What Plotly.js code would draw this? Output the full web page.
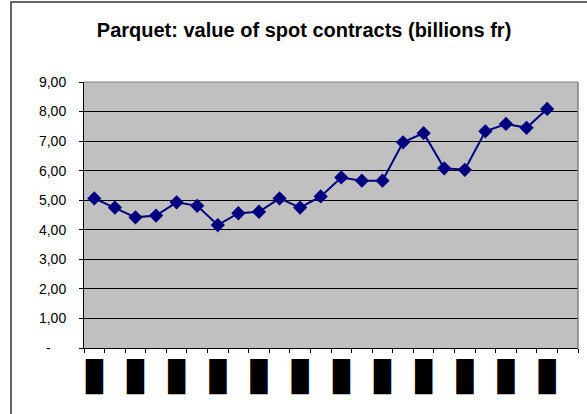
<!DOCTYPE html>
<html><head><meta charset="utf-8">
<script src="https://cdn.plot.ly/plotly-3.0.1.min.js"></script>
<style>html,body{margin:0;padding:0;background:#fff}#c{width:587px;height:414px}</style>
</head><body><div id="c"></div>
<script>
// 24 periods on the category axis (last one has no value)
const periods = Array.from({length: 24}, (_, i) => i);
const values = [5.06, 4.75, 4.42, 4.48, 4.93, 4.81, 4.16, 4.56, 4.61, 5.06, 4.75, 5.13,
                5.77, 5.66, 5.66, 6.96, 7.27, 6.08, 6.03, 7.33, 7.58, 7.45, 8.09, null];
const xTickVals = [0, 2, 4, 6, 8, 10, 12, 14, 16, 18, 20, 22];
const xTickText = xTickVals.map(() => '▊');
const yTickVals = [0, 1, 2, 3, 4, 5, 6, 7, 8, 9];
const yTickText = ['-\u00a0\u00a0\u00a0\u00a0', '1,00', '2,00', '3,00', '4,00', '5,00', '6,00', '7,00', '8,00', '9,00'];

const W = 587, H = 414, mL = 84, mR = 9, mT = 82, mB = 66;
const pw = W - mL - mR, ph = H - mT - mB;
const px = v => (v - mL) / pw, py = v => (H - mB - v) / ph;

const trace = {
  x: periods, y: values, type: 'scatter', mode: 'lines+markers',
  line: {color: '#000080', width: 2},
  marker: {symbol: 'diamond', size: 11, color: '#000080'},
  connectgaps: false, hoverinfo: 'none'
};

const layout = {
  width: W, height: H,
  margin: {l: mL, r: mR, t: mT, b: mB, pad: 0},
  paper_bgcolor: '#ffffff', plot_bgcolor: '#c0c0c0',
  font: {family: 'Liberation Sans, Arial, sans-serif', size: 14, color: '#000'},
  title: {text: '<b>Parquet: value of spot contracts (billions fr)</b>',
          font: {size: 20, family: 'Liberation Sans, Arial, sans-serif', color: '#000'},
          x: 0.518, xref: 'container', xanchor: 'center', y: 0.928, yanchor: 'middle'},
  showlegend: false,
  xaxis: {
    range: [-0.5, 23.5], tickmode: 'array', tickvals: xTickVals, ticktext: xTickText,
    ticks: '', tickangle: 0, tickfont: {size: 29.5, color: '#000', family: 'DejaVu Sans'},
    ticklabelstandoff: 3, ticklabelshift: 3,
    showgrid: false, zeroline: false, showline: true, linecolor: '#000', linewidth: 1,
    minor: {ticks: 'outside', tickmode: 'linear', tick0: -0.5, dtick: 1, ticklen: 4, tickcolor: '#000', showgrid: false},
    fixedrange: true
  },
  yaxis: {
    range: [0, 9], tickmode: 'array', tickvals: yTickVals, ticktext: yTickText,
    ticks: 'outside', ticklen: 4, tickcolor: '#000', ticklabelstandoff: 10,
    showgrid: true, gridcolor: '#000', gridwidth: 1, zeroline: false,
    showline: true, linecolor: '#000', linewidth: 1, fixedrange: true
  },
  shapes: [
    {type: 'line', xref: 'paper', yref: 'paper', x0: 1, x1: 1, y0: 0, y1: 1, line: {color: '#808080', width: 1.5}},
    {type: 'line', xref: 'paper', yref: 'paper', x0: 0, x1: 1, y0: 1, y1: 1, line: {color: '#808080', width: 1}},
    {type: 'rect', xref: 'paper', yref: 'paper', x0: px(11), x1: px(600), y0: py(2), y1: py(430),
     line: {color: '#333', width: 1.5}, fillcolor: 'rgba(0,0,0,0)', layer: 'below'}
  ]
};

Plotly.newPlot('c', [trace], layout, {displayModeBar: false, staticPlot: true});
</script></body></html>
